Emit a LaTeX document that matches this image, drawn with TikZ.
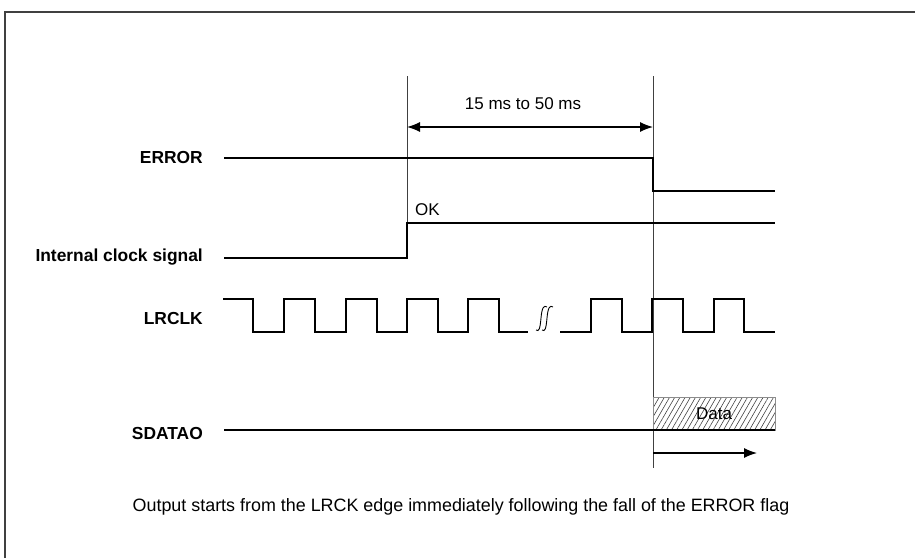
\documentclass[tikz,border=0pt]{standalone}
\usepackage{fontspec}
\setmainfont{Liberation Sans}
\usetikzlibrary{arrows.meta,patterns.meta}
\begin{document}
\begin{tikzpicture}[x=1pt,y=-1pt,
  sig/.style={line width=1.3pt,black},
  guide/.style={line width=0.9pt,black!75},
  lbl/.style={font=\fontsize{17.4}{20}\selectfont\bfseries,anchor=east,inner sep=0pt},
  txt/.style={font=\fontsize{17}{20}\selectfont,inner sep=0pt},
  tip/.style={Latex[length=13pt,width=10pt]},
  arr/.style={line width=1.3pt,-{Latex[length=13pt,width=10pt]}}]
\useasboundingbox (0,0) rectangle (915,558);
% frame
\draw[line width=1.5pt,black!75] (5,558) -- (5,12) -- (915,12);
% key coordinates
\coordinate (t1top) at (407,76);
\coordinate (t1bot) at (407,258);
\coordinate (t2top) at (653,76);
\coordinate (t2bot) at (653,468);
% guides
\draw[guide] (t1top) -- (t1bot);
\draw[guide] (t2top) -- (t2bot);
% dimension arrow
\coordinate (da) at (407,127);
\coordinate (db) at (653,127);
\draw[line width=1.3pt,{Latex[length=13pt,width=10pt]}-{Latex[length=13pt,width=10pt]}] (da) -- (db);
\node[txt] (dim) at (523,104) {15 ms to 50 ms};
% labels
\node[lbl] (lerr) at (203,158) {ERROR};
\node[lbl] (lint) at (203,257) {Internal clock signal};
\node[lbl] (llr) at (203,319) {LRCLK};
\node[lbl] (lsd) at (203,433) {SDATAO};
% ERROR
\coordinate (e0) at (224,158);
\coordinate (e1) at (653,158);
\coordinate (e2) at (653,191);
\coordinate (e3) at (775,191);
\draw[sig] (e0) -- (e1) -- (e2) -- (e3);
% internal clock
\coordinate (i0) at (224,258);
\coordinate (i1) at (407,258);
\coordinate (i2) at (407,223);
\coordinate (i3) at (775,223);
\draw[sig] (i0) -- (i1) -- (i2) -- (i3);
\node[txt,anchor=west] (ok) at (415,210) {OK};
% LRCLK
\draw[sig] (223,299) -- (253,299) -- (253,332) -- (284,332) -- (284,299)
  -- (315,299) -- (315,332) -- (346,332) -- (346,299) -- (377,299) -- (377,332)
  -- (407,332) -- (407,299) -- (438,299) -- (438,332) -- (468,332) -- (468,299)
  -- (499,299) -- (499,332) -- (528,332);
\draw[sig] (560,332) -- (591,332) -- (591,299) -- (622,299) -- (622,332)
  -- (652,332) -- (652,299) -- (683,299) -- (683,332) -- (714,332) -- (714,299)
  -- (744,299) -- (744,332) -- (775,332);
% break symbol
\foreach \bx in {536,542}{
  \draw[line width=0.9pt] (\bx,330) .. controls (\bx+3,332) and (\bx+4,329) .. (\bx+5,318)
     .. controls (\bx+6,307) and (\bx+8,305) .. (\bx+11,307);
}
% SDATAO
\coordinate (s0) at (224,430);
\coordinate (s1) at (775,430);
\draw[black!45,line width=0.8pt,pattern={Lines[angle=60,distance=4.5pt,line width=0.6pt]},pattern color=black!75]
  (653,397) rectangle (775,430);
\draw[sig] (s0) -- (s1);
\node[txt] (data) at (714,414) {Data};
\coordinate (a0) at (653,453);
\coordinate (a1) at (757,453);
\draw[arr] (a0) -- (a1);
% caption
\node[txt,font=\fontsize{17.9}{20}\selectfont] (cap) at (461,507) {Output starts from the LRCK edge immediately following the fall of the ERROR flag};
\end{tikzpicture}
\end{document}
